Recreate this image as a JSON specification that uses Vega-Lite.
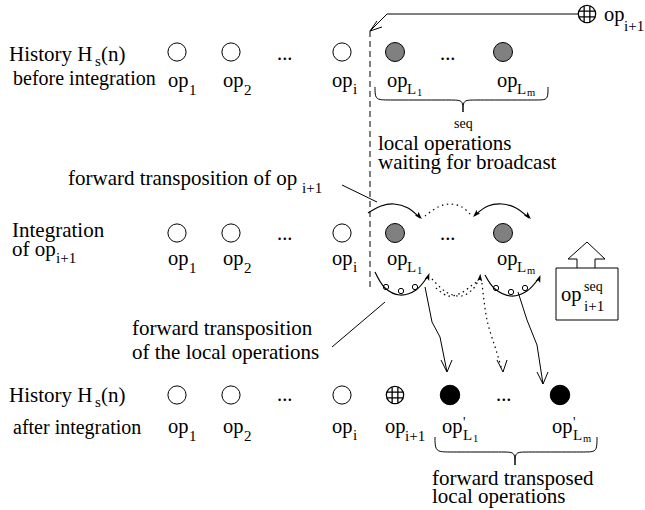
{
  "$schema": "https://vega.github.io/schema/vega-lite/v6.json",
  "width": 645,
  "height": 510,
  "autosize": {"type": "none"},
  "padding": 0,
  "background": "white",
  "config": {"view": {"stroke": null}},
  "datasets": {
    "texts": [
      {"x": 9, "y": 61, "t": "History H", "k": "note"},
      {"x": 95, "y": 66, "t": "s", "k": "sub"},
      {"x": 101, "y": 61, "t": "(n)", "k": "note"},
      {"x": 13, "y": 85, "t": "before integration", "k": "side"},
      {"x": 168, "y": 87, "t": "op", "k": "op"}, {"x": 189, "y": 95, "t": "1", "k": "sub"},
      {"x": 223, "y": 87, "t": "op", "k": "op"}, {"x": 244, "y": 95, "t": "2", "k": "sub"},
      {"x": 277, "y": 60, "t": "...", "k": "op"},
      {"x": 332, "y": 87, "t": "op", "k": "op"}, {"x": 353, "y": 94, "t": "i", "k": "sub"},
      {"x": 387, "y": 87, "t": "op", "k": "op"}, {"x": 407, "y": 94, "t": "L", "k": "sub"}, {"x": 417, "y": 96, "t": "1", "k": "subsub"},
      {"x": 440, "y": 60, "t": "...", "k": "op"},
      {"x": 497, "y": 87, "t": "op", "k": "op"}, {"x": 517, "y": 94, "t": "L", "k": "sub"}, {"x": 527, "y": 96, "t": "m", "k": "subsub"},
      {"x": 604, "y": 21, "t": "op", "k": "op"}, {"x": 624, "y": 31, "t": "i+1", "k": "sub"},
      {"x": 454, "y": 128, "t": "seq", "k": "sup"},
      {"x": 378, "y": 150, "t": "local operations", "k": "note"},
      {"x": 378, "y": 169, "t": "waiting for broadcast", "k": "note"},
      {"x": 68, "y": 185, "t": "forward transposition of op", "k": "note"},
      {"x": 302, "y": 193, "t": "i+1", "k": "sub"},
      {"x": 12, "y": 237, "t": "Integration", "k": "note"},
      {"x": 12, "y": 256, "t": "of op", "k": "note"},
      {"x": 56, "y": 263, "t": "i+1", "k": "sub"},
      {"x": 168, "y": 265, "t": "op", "k": "op"}, {"x": 189, "y": 273, "t": "1", "k": "sub"},
      {"x": 223, "y": 265, "t": "op", "k": "op"}, {"x": 244, "y": 273, "t": "2", "k": "sub"},
      {"x": 277, "y": 240, "t": "...", "k": "op"},
      {"x": 332, "y": 265, "t": "op", "k": "op"}, {"x": 353, "y": 272, "t": "i", "k": "sub"},
      {"x": 387, "y": 265, "t": "op", "k": "op"}, {"x": 407, "y": 272, "t": "L", "k": "sub"}, {"x": 417, "y": 274, "t": "1", "k": "subsub"},
      {"x": 440, "y": 240, "t": "...", "k": "op"},
      {"x": 497, "y": 265, "t": "op", "k": "op"}, {"x": 517, "y": 272, "t": "L", "k": "sub"}, {"x": 527, "y": 274, "t": "m", "k": "subsub"},
      {"x": 561, "y": 301, "t": "op", "k": "op"},
      {"x": 584, "y": 291, "t": "seq", "k": "sup"},
      {"x": 584, "y": 311, "t": "i+1", "k": "sub"},
      {"x": 132, "y": 335, "t": "forward transposition", "k": "note"},
      {"x": 132, "y": 359, "t": "of the local operations", "k": "note"},
      {"x": 9, "y": 402, "t": "History H", "k": "note"},
      {"x": 95, "y": 407, "t": "s", "k": "sub"},
      {"x": 101, "y": 402, "t": "(n)", "k": "note"},
      {"x": 13, "y": 434, "t": "after integration", "k": "side"},
      {"x": 168, "y": 433, "t": "op", "k": "op"}, {"x": 189, "y": 441, "t": "1", "k": "sub"},
      {"x": 223, "y": 433, "t": "op", "k": "op"}, {"x": 244, "y": 441, "t": "2", "k": "sub"},
      {"x": 277, "y": 401, "t": "...", "k": "op"},
      {"x": 332, "y": 433, "t": "op", "k": "op"}, {"x": 353, "y": 440, "t": "i", "k": "sub"},
      {"x": 385, "y": 433, "t": "op", "k": "op"}, {"x": 405, "y": 441, "t": "i+1", "k": "sub"},
      {"x": 442, "y": 433, "t": "op", "k": "op"}, {"x": 463, "y": 427, "t": "'", "k": "sup"}, {"x": 463, "y": 440, "t": "L", "k": "sub"}, {"x": 473, "y": 442, "t": "1", "k": "subsub"},
      {"x": 496, "y": 401, "t": "...", "k": "op"},
      {"x": 552, "y": 433, "t": "op", "k": "op"}, {"x": 573, "y": 427, "t": "'", "k": "sup"}, {"x": 573, "y": 440, "t": "L", "k": "sub"}, {"x": 583, "y": 442, "t": "m", "k": "subsub"},
      {"x": 432, "y": 485, "t": "forward transposed", "k": "note"},
      {"x": 432, "y": 503, "t": "local operations", "k": "note"}
    ],
    "polylines": [
      {"id": "top", "o": 1, "x": 578, "y": 14}, {"id": "top", "o": 2, "x": 387, "y": 14}, {"id": "top", "o": 3, "x": 370, "y": 31},
      {"id": "tophead", "o": 1, "x": 377, "y": 21}, {"id": "tophead", "o": 2, "x": 370, "y": 31}, {"id": "tophead", "o": 3, "x": 382, "y": 27},
      {"id": "p1", "o": 1, "x": 342, "y": 185}, {"id": "p1", "o": 2, "x": 377, "y": 202},
      {"id": "p2", "o": 1, "x": 385, "y": 302}, {"id": "p2", "o": 2, "x": 332, "y": 347},
      {"id": "s1", "o": 1, "x": 425, "y": 287}, {"id": "s1", "o": 2, "x": 432, "y": 322}, {"id": "s1", "o": 3, "x": 440, "y": 337}, {"id": "s1", "o": 4, "x": 447, "y": 372},
      {"id": "s1h", "o": 1, "x": 441, "y": 360}, {"id": "s1h", "o": 2, "x": 447, "y": 372}, {"id": "s1h", "o": 3, "x": 452, "y": 360},
      {"id": "s2", "o": 1, "x": 518, "y": 292}, {"id": "s2", "o": 2, "x": 527, "y": 320}, {"id": "s2", "o": 3, "x": 537, "y": 345}, {"id": "s2", "o": 4, "x": 543, "y": 384},
      {"id": "s2h", "o": 1, "x": 537, "y": 372}, {"id": "s2h", "o": 2, "x": 543, "y": 384}, {"id": "s2h", "o": 3, "x": 548, "y": 372},
      {"id": "d3h", "o": 1, "x": 497, "y": 360}, {"id": "d3h", "o": 2, "x": 503, "y": 372}, {"id": "d3h", "o": 3, "x": 507, "y": 360},
      {"id": "up", "o": 1, "x": 577, "y": 268}, {"id": "up", "o": 2, "x": 577, "y": 259}, {"id": "up", "o": 3, "x": 568, "y": 259}, {"id": "up", "o": 4, "x": 587, "y": 242}, {"id": "up", "o": 5, "x": 605, "y": 259}, {"id": "up", "o": 6, "x": 595, "y": 259}, {"id": "up", "o": 7, "x": 595, "y": 268}
    ],
    "dashed": [
      {"id": "dash", "o": 1, "x": 370, "y": 31}, {"id": "dash", "o": 2, "x": 370, "y": 287}
    ],
    "curves": [
      {"id": "c1", "o": 1, "x": 368, "y": 213}, {"id": "c1", "o": 2, "x": 381, "y": 206}, {"id": "c1", "o": 3, "x": 394, "y": 204}, {"id": "c1", "o": 4, "x": 408, "y": 208}, {"id": "c1", "o": 5, "x": 420, "y": 218},
      {"id": "c2", "o": 1, "x": 475, "y": 215}, {"id": "c2", "o": 2, "x": 488, "y": 206}, {"id": "c2", "o": 3, "x": 502, "y": 204}, {"id": "c2", "o": 4, "x": 516, "y": 208}, {"id": "c2", "o": 5, "x": 529, "y": 218},
      {"id": "c3", "o": 1, "x": 375, "y": 272}, {"id": "c3", "o": 2, "x": 385, "y": 288}, {"id": "c3", "o": 3, "x": 400, "y": 295}, {"id": "c3", "o": 4, "x": 416, "y": 290}, {"id": "c3", "o": 5, "x": 428, "y": 276},
      {"id": "c4", "o": 1, "x": 485, "y": 275}, {"id": "c4", "o": 2, "x": 495, "y": 289}, {"id": "c4", "o": 3, "x": 511, "y": 296}, {"id": "c4", "o": 4, "x": 527, "y": 291}, {"id": "c4", "o": 5, "x": 539, "y": 278}
    ],
    "dotted": [
      {"id": "e1", "o": 1, "x": 425, "y": 216}, {"id": "e1", "o": 2, "x": 438, "y": 207}, {"id": "e1", "o": 3, "x": 450, "y": 204}, {"id": "e1", "o": 4, "x": 462, "y": 207}, {"id": "e1", "o": 5, "x": 471, "y": 215},
      {"id": "e2", "o": 1, "x": 432, "y": 279}, {"id": "e2", "o": 2, "x": 446, "y": 292}, {"id": "e2", "o": 3, "x": 461, "y": 296}, {"id": "e2", "o": 4, "x": 473, "y": 289}, {"id": "e2", "o": 5, "x": 480, "y": 277},
      {"id": "e3", "o": 1, "x": 436, "y": 288}, {"id": "e3", "o": 2, "x": 448, "y": 296}, {"id": "e3", "o": 3, "x": 461, "y": 293}, {"id": "e3", "o": 4, "x": 471, "y": 286}, {"id": "e3", "o": 5, "x": 478, "y": 281},
      {"id": "e4", "o": 1, "x": 482, "y": 283}, {"id": "e4", "o": 2, "x": 487, "y": 320}, {"id": "e4", "o": 3, "x": 497, "y": 353}, {"id": "e4", "o": 4, "x": 502, "y": 370}
    ],
    "braces": [
      {"id": "b1l", "o": 1, "x": 375, "y": 87}, {"id": "b1l", "o": 2, "x": 375, "y": 97}, {"id": "b1l", "o": 3, "x": 379, "y": 100}, {"id": "b1l", "o": 4, "x": 390, "y": 100}, {"id": "b1l", "o": 5, "x": 450, "y": 100}, {"id": "b1l", "o": 6, "x": 460, "y": 100}, {"id": "b1l", "o": 7, "x": 463, "y": 103}, {"id": "b1l", "o": 8, "x": 463, "y": 112},
      {"id": "b1r", "o": 1, "x": 463, "y": 112}, {"id": "b1r", "o": 2, "x": 463, "y": 103}, {"id": "b1r", "o": 3, "x": 466, "y": 100}, {"id": "b1r", "o": 4, "x": 476, "y": 100}, {"id": "b1r", "o": 5, "x": 536, "y": 100}, {"id": "b1r", "o": 6, "x": 545, "y": 100}, {"id": "b1r", "o": 7, "x": 548, "y": 97}, {"id": "b1r", "o": 8, "x": 548, "y": 87},
      {"id": "b2l", "o": 1, "x": 435, "y": 437}, {"id": "b2l", "o": 2, "x": 435, "y": 448}, {"id": "b2l", "o": 3, "x": 439, "y": 452}, {"id": "b2l", "o": 4, "x": 450, "y": 452}, {"id": "b2l", "o": 5, "x": 502, "y": 452}, {"id": "b2l", "o": 6, "x": 512, "y": 452}, {"id": "b2l", "o": 7, "x": 515, "y": 455}, {"id": "b2l", "o": 8, "x": 515, "y": 465},
      {"id": "b2r", "o": 1, "x": 515, "y": 465}, {"id": "b2r", "o": 2, "x": 515, "y": 455}, {"id": "b2r", "o": 3, "x": 518, "y": 452}, {"id": "b2r", "o": 4, "x": 528, "y": 452}, {"id": "b2r", "o": 5, "x": 584, "y": 452}, {"id": "b2r", "o": 6, "x": 594, "y": 452}, {"id": "b2r", "o": 7, "x": 597, "y": 448}, {"id": "b2r", "o": 8, "x": 597, "y": 437}
    ],
    "heads": [
      {"x": 419, "y": 216, "a": 135},
      {"x": 476, "y": 214, "a": 225},
      {"x": 528, "y": 216, "a": 135},
      {"x": 428, "y": 277, "a": 20},
      {"x": 539, "y": 279, "a": 20},
      {"x": 480, "y": 278, "a": 5}
    ],
    "circles": [
      {"x": 177, "y": 52, "k": "open"}, {"x": 231, "y": 52, "k": "open"}, {"x": 342, "y": 52, "k": "open"},
      {"x": 177, "y": 233, "k": "open"}, {"x": 231, "y": 233, "k": "open"}, {"x": 342, "y": 233, "k": "open"},
      {"x": 177, "y": 395, "k": "open"}, {"x": 231, "y": 395, "k": "open"}, {"x": 342, "y": 395, "k": "open"},
      {"x": 395, "y": 52, "k": "grey"}, {"x": 503, "y": 52, "k": "grey"},
      {"x": 395, "y": 233, "k": "grey"}, {"x": 503, "y": 233, "k": "grey"},
      {"x": 450, "y": 395, "k": "black"}, {"x": 560, "y": 395, "k": "black"},
      {"x": 587, "y": 14, "k": "hatch"}, {"x": 395, "y": 395, "k": "hatch"}
    ],
    "loops": [
      {"x": 386, "y": 287}, {"x": 401, "y": 291}, {"x": 415, "y": 287},
      {"x": 496, "y": 288}, {"x": 511, "y": 292}, {"x": 525, "y": 288}
    ],
    "box": [
      {"x": 556, "y": 268, "x2": 618, "y2": 320}
    ]
  },
  "encoding": {
    "x": {"field": "x", "type": "quantitative", "scale": {"domain": [0, 645], "nice": false, "zero": false}, "axis": null},
    "y": {"field": "y", "type": "quantitative", "scale": {"domain": [0, 510], "reverse": true, "nice": false, "zero": false}, "axis": null}
  },
  "layer": [
    {
      "data": {"name": "box"},
      "mark": {"type": "rect", "fill": "white", "stroke": "black", "strokeWidth": 1},
      "encoding": {"x2": {"field": "x2"}, "y2": {"field": "y2"}}
    },
    {
      "data": {"name": "polylines"},
      "mark": {"type": "line", "color": "black", "strokeWidth": 1, "interpolate": "linear"},
      "encoding": {"detail": {"field": "id"}, "order": {"field": "o", "type": "quantitative"}}
    },
    {
      "data": {"name": "dashed"},
      "mark": {"type": "line", "color": "black", "strokeWidth": 1, "strokeDash": [6, 4]},
      "encoding": {"detail": {"field": "id"}, "order": {"field": "o", "type": "quantitative"}}
    },
    {
      "data": {"name": "curves"},
      "mark": {"type": "line", "color": "black", "strokeWidth": 1.2, "interpolate": "cardinal"},
      "encoding": {"detail": {"field": "id"}, "order": {"field": "o", "type": "quantitative"}}
    },
    {
      "data": {"name": "dotted"},
      "mark": {"type": "line", "color": "black", "strokeWidth": 1.2, "strokeDash": [1.5, 3.5], "interpolate": "cardinal"},
      "encoding": {"detail": {"field": "id"}, "order": {"field": "o", "type": "quantitative"}}
    },
    {
      "data": {"name": "braces"},
      "mark": {"type": "line", "color": "black", "strokeWidth": 1, "interpolate": "basis"},
      "encoding": {"detail": {"field": "id"}, "order": {"field": "o", "type": "quantitative"}}
    },
    {
      "data": {"name": "heads"},
      "mark": {"type": "point", "shape": "M0,-1L0.6,0.8L0,0.4L-0.6,0.8Z", "filled": true, "color": "black", "size": 70, "opacity": 1},
      "encoding": {"angle": {"field": "a", "type": "quantitative", "scale": null}}
    },
    {
      "data": {"name": "loops"},
      "mark": {"type": "point", "shape": "circle", "filled": false, "stroke": "black", "strokeWidth": 1, "size": 28, "opacity": 1}
    },
    {
      "data": {"name": "circles"},
      "transform": [{"filter": "datum.k === 'open'"}],
      "mark": {"type": "point", "shape": "circle", "filled": true, "fill": "white", "stroke": "black", "strokeWidth": 1, "size": 330, "opacity": 1}
    },
    {
      "data": {"name": "circles"},
      "transform": [{"filter": "datum.k === 'grey'"}],
      "mark": {"type": "point", "shape": "circle", "filled": true, "fill": "#808080", "stroke": "black", "strokeWidth": 1, "size": 361, "opacity": 1}
    },
    {
      "data": {"name": "circles"},
      "transform": [{"filter": "datum.k === 'black'"}],
      "mark": {"type": "point", "shape": "circle", "filled": true, "fill": "black", "stroke": "black", "strokeWidth": 1, "size": 380, "opacity": 1}
    },
    {
      "data": {"name": "circles"},
      "transform": [{"filter": "datum.k === 'hatch'"}],
      "mark": {"type": "point", "shape": "M-1,0A1,1,0,1,1,1,0A1,1,0,1,1,-1,0ZM-0.33,-0.94L-0.33,0.94M0.33,-0.94L0.33,0.94M-0.94,-0.33L0.94,-0.33M-0.94,0.33L0.94,0.33", "filled": true, "fill": "white", "stroke": "black", "strokeWidth": 1.3, "size": 300, "opacity": 1}
    },
    {
      "data": {"name": "texts"},
      "transform": [{"filter": "datum.k === 'note'"}],
      "mark": {"type": "text", "align": "left", "baseline": "alphabetic", "font": "Liberation Serif", "fontSize": 21, "color": "black"},
      "encoding": {"text": {"field": "t"}}
    },
    {
      "data": {"name": "texts"},
      "transform": [{"filter": "datum.k === 'side'"}],
      "mark": {"type": "text", "align": "left", "baseline": "alphabetic", "font": "Liberation Serif", "fontSize": 20, "color": "black"},
      "encoding": {"text": {"field": "t"}}
    },
    {
      "data": {"name": "texts"},
      "transform": [{"filter": "datum.k === 'op'"}],
      "mark": {"type": "text", "align": "left", "baseline": "alphabetic", "font": "Liberation Serif", "fontSize": 20.5, "color": "black"},
      "encoding": {"text": {"field": "t"}}
    },
    {
      "data": {"name": "texts"},
      "transform": [{"filter": "datum.k === 'sub'"}],
      "mark": {"type": "text", "align": "left", "baseline": "alphabetic", "font": "Liberation Serif", "fontSize": 15, "color": "black"},
      "encoding": {"text": {"field": "t"}}
    },
    {
      "data": {"name": "texts"},
      "transform": [{"filter": "datum.k === 'subsub'"}],
      "mark": {"type": "text", "align": "left", "baseline": "alphabetic", "font": "Liberation Serif", "fontSize": 10.5, "color": "black"},
      "encoding": {"text": {"field": "t"}}
    },
    {
      "data": {"name": "texts"},
      "transform": [{"filter": "datum.k === 'sup'"}],
      "mark": {"type": "text", "align": "left", "baseline": "alphabetic", "font": "Liberation Serif", "fontSize": 14, "color": "black"},
      "encoding": {"text": {"field": "t"}}
    }
  ]
}
